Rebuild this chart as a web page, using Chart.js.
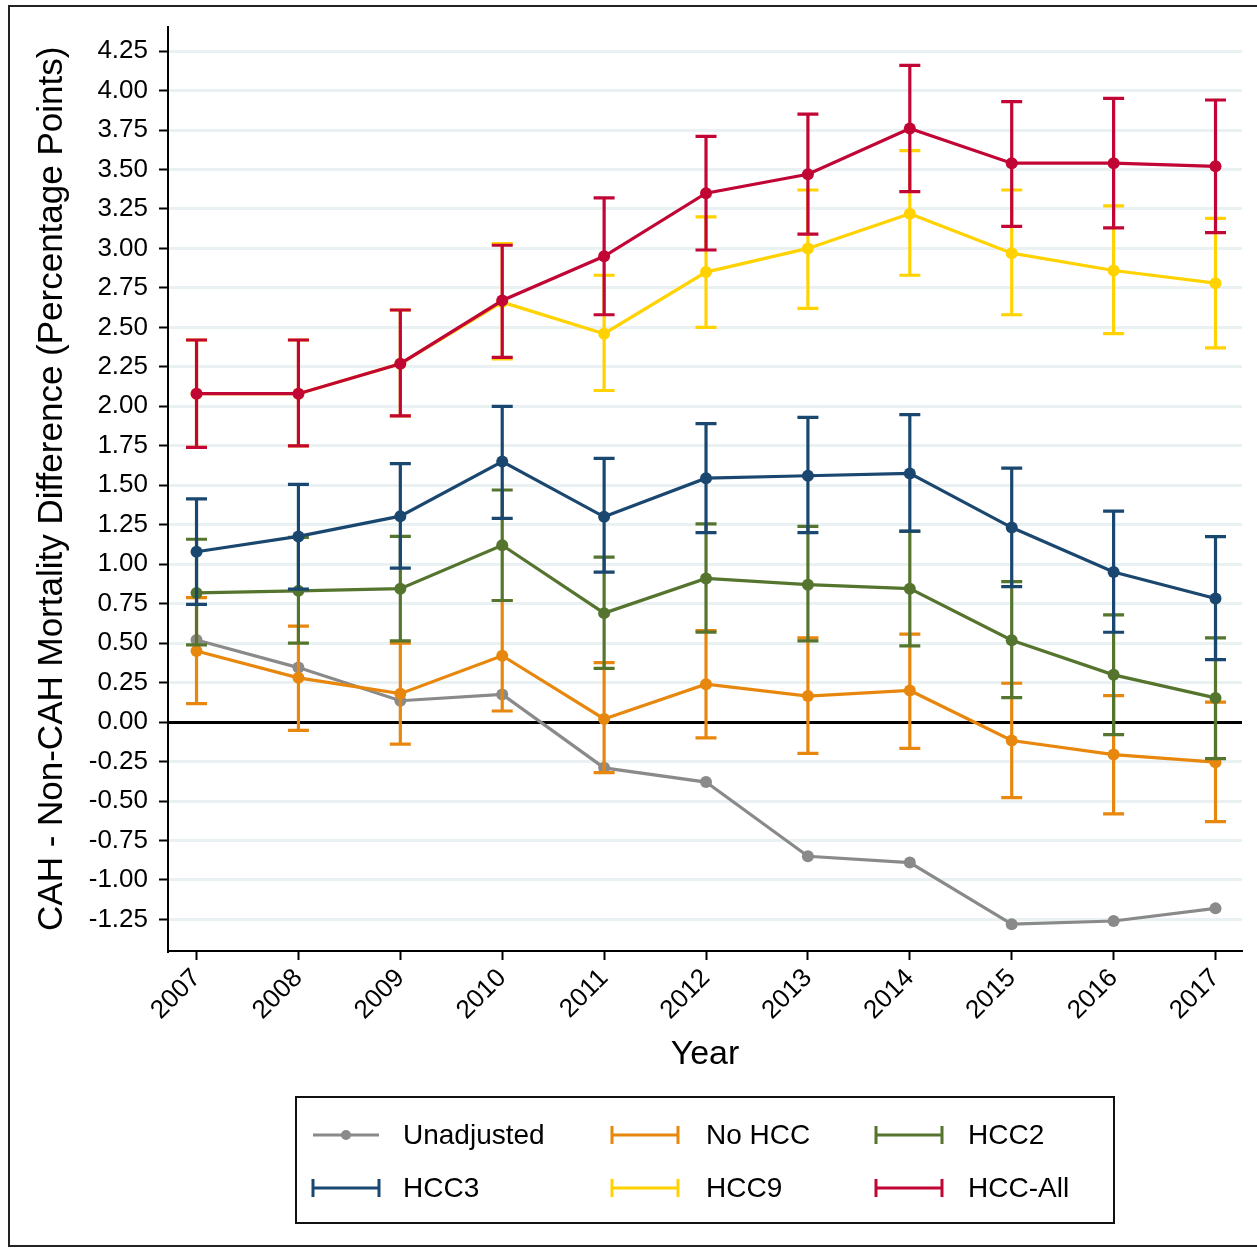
<!DOCTYPE html>
<html>
<head>
<meta charset="utf-8">
<script src="https://cdn.jsdelivr.net/npm/chart.js@4.4.1/dist/chart.umd.min.js"></script>
<style>
  html, body { margin: 0; padding: 0; background: #fff; }
  #wrap { position: relative; width: 1257px; height: 1251px; overflow: hidden; }
  #frame { position: absolute; left: 8px; top: 5px; width: 1270px; height: 1242px; border: 2px solid #222; box-sizing: border-box; pointer-events: none; }
  canvas { position: absolute; left: 0; top: 0; }
</style>
</head>
<body>
<div id="wrap">
  <canvas id="chart" width="1257" height="1251"></canvas>
  <div id="frame"></div>
</div>
<script>
// Years and y tick labels
const years = [2007, 2008, 2009, 2010, 2011, 2012, 2013, 2014, 2015, 2016, 2017];
const yTicks = [-1.25, -1, -0.75, -0.5, -0.25, 0, 0.25, 0.5, 0.75, 1, 1.25, 1.5, 1.75, 2, 2.25, 2.5, 2.75, 3, 3.25, 3.5, 3.75, 4, 4.25];

// Unadjusted (no CI)
const unadj = [0.52, 0.345, 0.135, 0.175, -0.29, -0.38, -0.85, -0.89, -1.28, -1.26, -1.18];

// No HCC
const noHcc   = [0.45, 0.28, 0.18, 0.42, 0.02, 0.24, 0.165, 0.20, -0.117, -0.206, -0.254];
const noHccLo = [0.117, -0.052, -0.14, 0.07, -0.32, -0.10, -0.198, -0.166, -0.478, -0.582, -0.63];
const noHccHi = [0.788, 0.608, 0.50, 0.77, 0.377, 0.58, 0.533, 0.557, 0.246, 0.168, 0.126];

// HCC2
const hcc2   = [0.818, 0.831, 0.845, 1.12, 0.69, 0.91, 0.87, 0.845, 0.518, 0.299, 0.153];
const hcc2Lo = [0.489, 0.50, 0.514, 0.77, 0.34, 0.57, 0.514, 0.482, 0.155, -0.08, -0.232];
const hcc2Hi = [1.158, 1.17, 1.176, 1.47, 1.045, 1.255, 1.24, 1.208, 0.889, 0.679, 0.533];

// HCC3
const hcc3   = [1.079, 1.176, 1.304, 1.65, 1.30, 1.545, 1.56, 1.575, 1.232, 0.951, 0.783];
const hcc3Lo = [0.745, 0.842, 0.975, 1.29, 0.95, 1.20, 1.20, 1.21, 0.858, 0.569, 0.396];
const hcc3Hi = [1.414, 1.505, 1.637, 2.00, 1.67, 1.89, 1.93, 1.947, 1.608, 1.336, 1.175];

// HCC9
const hcc9   = [2.08, 2.08, 2.27, 2.66, 2.46, 2.85, 3.00, 3.22, 2.97, 2.86, 2.78];
const hcc9Lo = [1.74, 1.75, 1.94, 2.30, 2.10, 2.50, 2.62, 2.83, 2.58, 2.46, 2.37];
const hcc9Hi = [2.42, 2.42, 2.61, 3.03, 2.83, 3.20, 3.37, 3.62, 3.37, 3.27, 3.19];

// HCC-All
const hccAll   = [2.08, 2.08, 2.27, 2.67, 2.95, 3.35, 3.47, 3.76, 3.54, 3.54, 3.52];
const hccAllLo = [1.74, 1.75, 1.94, 2.31, 2.58, 2.99, 3.09, 3.36, 3.14, 3.13, 3.10];
const hccAllHi = [2.42, 2.42, 2.61, 3.02, 3.32, 3.71, 3.85, 4.16, 3.93, 3.95, 3.94];

const FONT = "'Liberation Sans', Arial, sans-serif";
Chart.defaults.font.family = FONT;
Chart.defaults.color = '#000';

const pts = (arr) => arr.map((v, i) => ({ x: years[i], y: v }));

function series(label, color, vals, lo, hi, i) {
  return {
    label,
    data: pts(vals),
    errLo: lo,
    errHi: hi,
    borderColor: color,
    backgroundColor: color,
    borderWidth: 3.2,
    pointRadius: 6,
    pointHoverRadius: 6,
    pointBorderWidth: 0,
    pointBackgroundColor: color,
    tension: 0,
    order: 10 - i,
  };
}

const datasets = [
  series('Unadjusted', '#8a8a8a', unadj, null, null, 0),
  series('No HCC', '#e8870e', noHcc, noHccLo, noHccHi, 1),
  series('HCC2', '#55752f', hcc2, hcc2Lo, hcc2Hi, 2),
  series('HCC3', '#1a476f', hcc3, hcc3Lo, hcc3Hi, 3),
  series('HCC9', '#ffd200', hcc9, hcc9Lo, hcc9Hi, 4),
  series('HCC-All', '#c10534', hccAll, hccAllLo, hccAllHi, 5),
];

// error bars with caps, drawn right after each dataset
const errorBars = {
  id: 'errorBars',
  afterDatasetDraw(chart, args) {
    const ds = chart.data.datasets[args.index];
    if (!ds.errLo) return;
    const { ctx, chartArea, scales: { x, y } } = chart;
    ctx.save();
    ctx.beginPath();
    ctx.rect(chartArea.left, chartArea.top, chartArea.width, chartArea.height);
    ctx.clip();
    ctx.strokeStyle = ds.borderColor;
    ctx.lineWidth = 3.2;
    ctx.lineCap = 'butt';
    const cap = 10.5;
    years.forEach((yr, i) => {
      const px = x.getPixelForValue(yr);
      const yl = y.getPixelForValue(ds.errLo[i]);
      const yh = y.getPixelForValue(ds.errHi[i]);
      ctx.beginPath();
      ctx.moveTo(px, yl); ctx.lineTo(px, yh);
      ctx.moveTo(px - cap, yl); ctx.lineTo(px + cap, yl);
      ctx.moveTo(px - cap, yh); ctx.lineTo(px + cap, yh);
      ctx.stroke();
    });
    ctx.restore();
  },
};

// boxed legend in 3 columns x 2 rows
const boxLegend = {
  id: 'boxLegend',
  afterDraw(chart) {
    const { ctx } = chart;
    const box = { x: 296, y: 1097, w: 818, h: 126 };
    const rows = [1135, 1188];
    const symX = [313, 612, 876];
    const txtX = [403, 706, 968];
    const symW = 66;
    ctx.save();
    ctx.strokeStyle = '#111';
    ctx.lineWidth = 2;
    ctx.strokeRect(box.x, box.y, box.w, box.h);
    ctx.font = `28px ${FONT}`;
    ctx.textBaseline = 'middle';
    ctx.textAlign = 'left';
    chart.data.datasets.forEach((ds, i) => {
      const r = Math.floor(i / 3), c = i % 3;
      const yy = rows[r], x0 = symX[c];
      ctx.strokeStyle = ds.borderColor;
      ctx.fillStyle = ds.borderColor;
      ctx.lineWidth = 3;
      ctx.beginPath();
      ctx.moveTo(x0, yy); ctx.lineTo(x0 + symW, yy);
      if (ds.errLo) {
        ctx.moveTo(x0, yy - 9); ctx.lineTo(x0, yy + 9);
        ctx.moveTo(x0 + symW, yy - 9); ctx.lineTo(x0 + symW, yy + 9);
      }
      ctx.stroke();
      if (!ds.errLo) {
        ctx.beginPath();
        ctx.arc(x0 + symW / 2, yy, 5, 0, Math.PI * 2);
        ctx.fill();
      }
      ctx.fillStyle = '#000';
      ctx.fillText(ds.label, txtX[c], yy + 1);
    });
    ctx.restore();
  },
};

new Chart(document.getElementById('chart'), {
  type: 'line',
  data: { datasets },
  plugins: [errorBars, boxLegend],
  options: {
    responsive: false,
    animation: false,
    layout: { padding: { top: 23, right: 15, bottom: 176, left: 0 } },
    plugins: { legend: { display: false }, tooltip: { enabled: false } },
    scales: {
      x: {
        type: 'linear',
        min: 2006.72,
        max: 2017.26,
        afterBuildTicks: (s) => { s.ticks = years.map((v) => ({ value: v })); },
        afterFit: (s) => { s.height = 124; },
        border: { color: '#000', width: 2 },
        grid: { drawOnChartArea: false, tickLength: 9, tickColor: '#000', tickWidth: 2 },
        ticks: {
          minRotation: 45, maxRotation: 45, padding: 3,
          font: { size: 26 }, color: '#000',
          callback: (v) => String(v),
        },
        title: { display: true, text: 'Year', font: { size: 34 }, color: '#000', padding: { top: 0, bottom: 0 } },
      },
      y: {
        type: 'linear',
        min: -1.45,
        max: 4.405,
        afterBuildTicks: (s) => { s.ticks = yTicks.map((v) => ({ value: v })); },
        afterFit: (s) => { s.width = 168; },
        border: { color: '#000', width: 2 },
        grid: {
          color: (c) => (c.tick && c.tick.value === 0 ? '#000' : '#eaf1f3'),
          lineWidth: 3,
          tickLength: 9, tickColor: '#000', tickWidth: 2,
        },
        ticks: {
          padding: 11, font: { size: 26 }, color: '#000',
          callback: (v) => Number(v).toFixed(2),
        },
        title: {
          display: true,
          text: 'CAH - Non-CAH Mortality Difference (Percentage Points)',
          font: { size: 35 }, color: '#000',
          padding: { top: 31, bottom: 0 },
        },
      },
    },
  },
});
</script>
</body>
</html>
